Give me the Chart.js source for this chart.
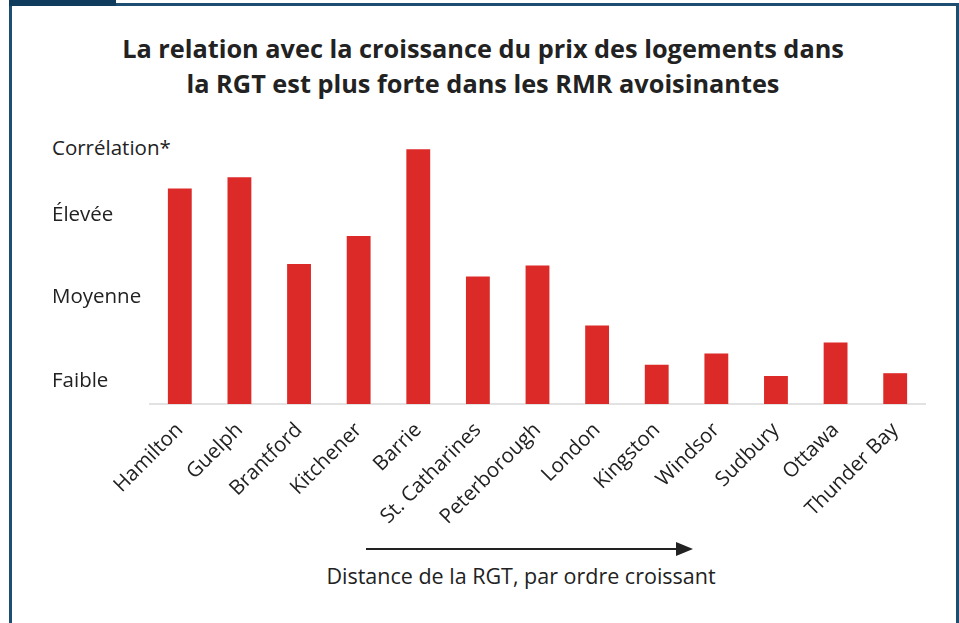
<!DOCTYPE html>
<html lang="fr">
<head>
<meta charset="utf-8">
<script src="https://cdn.jsdelivr.net/npm/chart.js@4.4.1/dist/chart.umd.min.js"></script>
<style>
  html, body { margin: 0; padding: 0; background: #fff; }
  #cadre { position: relative; width: 959px; height: 623px; overflow: hidden; font-family: "Open Sans", Lato, sans-serif; }
  #bordure { position: absolute; left: 9px; top: 3px; width: 944px; height: 640px; border: 3px solid #1d4d70; border-bottom: none; }
  #onglet { position: absolute; left: 9px; top: 0; width: 107px; height: 6px; background: #0f3b5c; }
  #titre { position: absolute; left: 0; width: 966px; top: 31px; text-align: center; font-weight: bold; font-size: 25.3px; line-height: 35px; color: #222; }
  #correlation { position: absolute; left: 52px; top: 133px; font-size: 20.5px; color: #222; }
  #legende { position: absolute; left: 0; width: 1042px; top: 561px; text-align: center; font-size: 21.5px; color: #222; }
  #fleche { position: absolute; left: 366px; top: 541px; }
  canvas { position: absolute; left: 0; top: 0; }
</style>
</head>
<body>
<div id="cadre">
  <div id="bordure"></div>
  <div id="onglet"></div>
  <div id="titre">La relation avec la croissance du prix des logements dans<br>la RGT est plus forte dans les RMR avoisinantes</div>
  <div id="correlation">Corrélation*</div>
  <svg id="fleche" width="330" height="16">
    <line x1="0" y1="8" x2="312" y2="8" stroke="#222" stroke-width="2"/>
    <polygon points="310,1 327,8 310,15" fill="#222"/>
  </svg>
  <div id="legende">Distance de la RGT, par ordre croissant</div>
  <canvas id="graphique" width="959" height="623"></canvas>
</div>
<script>
// données
const villes = ["Hamilton", "Guelph", "Brantford", "Kitchener", "Barrie", "St. Catharines", "Peterborough",
                "London", "Kingston", "Windsor", "Sudbury", "Ottawa", "Thunder Bay"];
const correlations = [0.77, 0.81, 0.50, 0.60, 0.91, 0.455, 0.495, 0.28, 0.14, 0.18, 0.10, 0.22, 0.11];
const niveauxValeurs = [0.08, 0.38, 0.675];
const niveauxNoms = ["Faible", "Moyenne", "Élevée"];

const rouge = "#dc2a28";

new Chart(document.getElementById("graphique"), {
    type: "bar",
    data: {
        labels: villes,
        datasets: [{ data: correlations, backgroundColor: rouge, barPercentage: 0.4, categoryPercentage: 1.0 }]
    },
    options: {
        responsive: false,
        animation: false,
        layout: { padding: { left: 52, right: 34, top: 124, bottom: 0 } },
        plugins: { legend: { display: false }, tooltip: { enabled: false } },
        scales: {
            x: {
                grid: { display: false },
                border: { color: "#e2e2e2", width: 2 },
                ticks: { color: "#222", font: { family: "Open Sans", size: 20.5 }, maxRotation: 45, minRotation: 45, padding: 6 },
                afterFit: s => { s.height = 219; }
            },
            y: {
                min: 0,
                max: 1,
                grid: { display: false },
                border: { display: false },
                afterFit: s => { s.width = 98; },
                afterBuildTicks: s => { s.ticks = niveauxValeurs.map(v => ({ value: v })); },
                ticks: {
                    color: "#222",
                    crossAlign: "far",
                    font: { family: "Open Sans", size: 20.5 },
                    callback: (v, i) => niveauxNoms[i]
                }
            }
        }
    }
});
</script>
</body>
</html>
